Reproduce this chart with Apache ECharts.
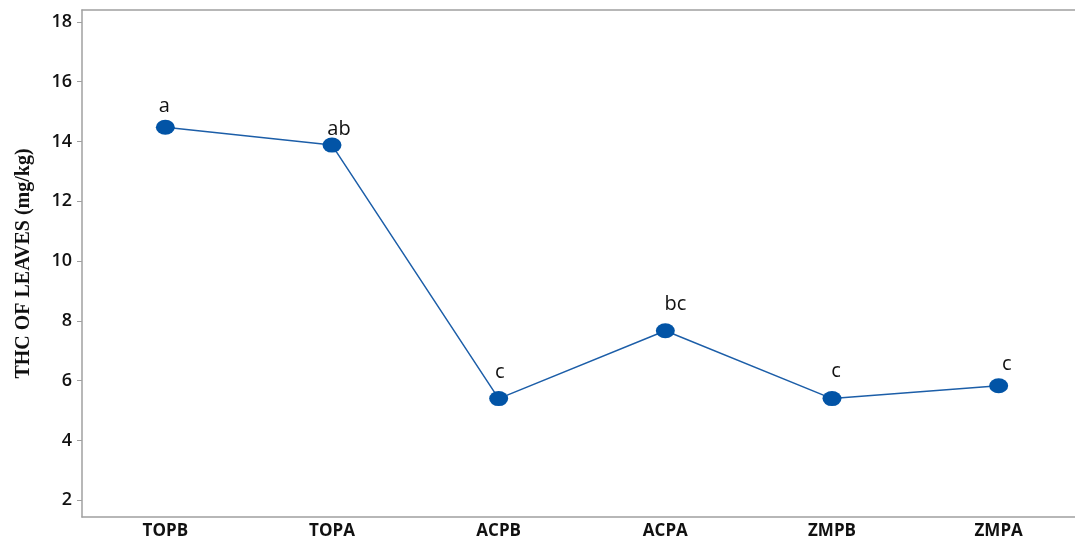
<!DOCTYPE html>
<html>
<head>
<meta charset="utf-8">
<script src="https://cdn.jsdelivr.net/npm/echarts@6/dist/echarts.min.js"></script>
<style>html,body{margin:0;padding:0;background:#fff;overflow:hidden;}#c{width:1075px;height:541px;overflow:hidden;}</style>
</head>
<body>
<div id="c"></div>
<script>
const categories = ['TOPB', 'TOPA', 'ACPB', 'ACPA', 'ZMPB', 'ZMPA'];
const thcValues = [14.48, 13.88, 5.40, 7.67, 5.40, 5.83];
const groupLetters = ['a', 'ab', 'c', 'bc', 'c', 'c'];
const yTicks = [2, 4, 6, 8, 10, 12, 14, 16, 18];
const yTitle = 'THC OF LEAVES (mg/kg)';

const labelOffsets = [[-1, 3], [7, 8], [1, -3], [10, -3], [4, -4], [8, 2]];

const chart = echarts.init(document.getElementById('c'));
chart.setOption({
  animation: false,
  backgroundColor: '#fff',
  grid: { left: 82, top: 10, bottom: 24, width: 1000, show: false, outerBoundsMode: 'none', containLabel: false },
  xAxis: [{
    type: 'category',
    data: categories,
    boundaryGap: true,
    axisLine: { lineStyle: { color: '#a0a0a0', width: 1.5 } },
    axisTick: { alignWithLabel: true, length: 4, lineStyle: { color: '#a0a0a0' } },
    axisLabel: { color: '#111', fontFamily: 'Open Sans', fontWeight: 'bold', fontSize: 17, margin: 6 },
    splitLine: { show: false }
  }, {
    type: 'category',
    data: categories,
    position: 'top',
    axisLine: { show: true, lineStyle: { color: '#a0a0a0', width: 1.5 } },
    axisTick: { show: false },
    axisLabel: { show: false },
    splitLine: { show: false }
  }],
  yAxis: {
    type: 'value',
    min: 1.44,
    max: 18.4,
    name: yTitle,
    nameLocation: 'middle',
    nameGap: 48,
    nameRotate: 90,
    nameTextStyle: { fontFamily: 'Liberation Serif', fontWeight: 'bold', fontSize: 20, color: '#111' },
    axisLine: { show: true, lineStyle: { color: '#a0a0a0', width: 1.5 } },
    axisTick: { show: true, length: 5, customValues: yTicks, lineStyle: { color: '#a0a0a0' } },
    axisLabel: { customValues: yTicks, color: '#111', fontFamily: 'Open Sans', fontWeight: 600, fontSize: 18, margin: 10 },
    splitLine: { show: false }
  },
  series: [{
    type: 'line',
    data: thcValues.map((v, i) => ({
      value: v,
      label: { offset: labelOffsets[i] }
    })),
    symbol: 'circle',
    symbolSize: [19, 15],
    itemStyle: { color: '#0254a6' },
    lineStyle: { color: '#1c5ea8', width: 1.5 },
    label: {
      show: true,
      position: 'top',
      distance: 6,
      formatter: p => groupLetters[p.dataIndex],
      fontFamily: 'Open Sans',
      fontSize: 20,
      color: '#111'
    }
  }]
});
</script>
</body>
</html>
